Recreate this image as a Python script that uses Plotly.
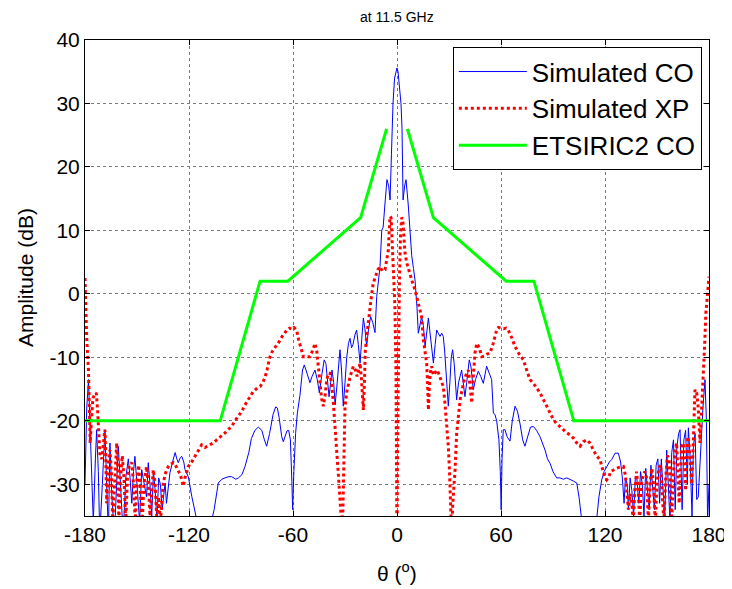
import plotly.graph_objects as go

# ---------------- data ----------------
co_theta = [-180, -179, -178, -177, -176, -175.2, -174, -173.3, -172.3, -171.5, -170, -168.5, -167.5, -166.5,
            -165.6, -164.5, -163, -161.5, -160.8, -159.5, -158, -156.5, -155, -154, -153, -152, -151.2, -150,
            -148.5, -147.3, -146, -144.5, -143.5, -142.5, -141.5, -140.5, -139.5, -138.5, -137.5, -136.5, -135.5,
            -133.8, -133, -132, -131, -129.5, -128, -127, -126.2, -125, -124.2, -123, -122.3, -120.4, -118.4,
            -115.6, -112, -108, -105.5, -103.1, -101, -99.2, -97, -95.4, -93, -91.5, -89.5, -87.7, -85.5, -84,
            -82, -80, -78, -76.5, -75.2, -73.5, -71.5, -70, -69, -68, -66.5, -65.6, -64.5, -63.5, -62.5, -61.5,
            -60.6, -60.2, -59.5, -58.5, -57.5, -56, -54.5, -53.5, -52.5, -51.2, -50.2, -49, -47.3, -46, -44.8,
            -43.5, -42, -41, -40, -39.2, -38.3, -37.5, -36.5, -35.7, -34.5, -33.5, -32.9, -32, -31, -30, -29,
            -28, -27.1, -26.2, -25.4, -24.3, -23.3, -22.3, -21.3, -20.3, -19.4, -18.5, -17.5, -16.4, -15.2,
            -14, -12.7, -11.7, -10.5, -9.8, -8.8, -8, -7, -5.8, -4.8, -4, -3.2, -2.3, -1.4, -0.6, 0, 0.6, 1.4,
            2.3, 2.9, 3.5, 4.4, 5.2, 6.5, 7.5, 8.5, 9.5, 10.4, 11.5, 12.3, 13.2, 14.2, 15.2, 16.2, 17.2, 18.1,
            19, 20, 21, 22, 22.9, 24, 24.8, 25.8, 26.7, 27.5, 28.5, 29.6, 30.5, 31.3, 32.1, 33, 34.4, 35.5,
            37.3, 38.2, 39.2, 40.2, 41.7, 42.7, 44, 45.3, 46.9, 48.3, 49.8, 51.7, 53, 54.6, 55.6, 56.5, 57.5,
            58.8, 59.6, 60.1, 60.6, 61.3, 62.3, 63.5, 65.2, 66.5, 68.1, 69.5, 71, 72.5, 73.8, 75.5, 77, 78.7,
            80.5, 82.5, 84, 85.4, 86.8, 88.3, 90, 92.1, 94, 96, 98, 99.8, 101.8, 103.7, 105, 106.5, 109, 113,
            115.2, 116.5, 118.1, 119.5, 121, 122.5, 123.9, 125.8, 127.7, 129, 130, 131, 131.8, 132.8, 133.5,
            134.5, 135.5, 136.5, 137.5, 138.3, 139.5, 140.5, 141.5, 142.5, 143.5, 144.5, 145.5, 146.5, 147.5,
            148.5, 149.5, 150.5, 151.5, 152.5, 153.5, 154.5, 155.6, 156.5, 157.5, 158.5, 159.5, 160.5, 161.5,
            162.5, 163.3, 164.5, 165.5, 166.5, 167.5, 168.1, 169, 170.2, 171, 172, 172.9, 173.8, 175, 176.5,
            177.7, 178.5, 179.2, 180]
co_db = [-30, -18, -13.5, -22, -30, -36, -26, -21.4, -28, -38, -30, -21.4, -30, -38,
         -23.5, -32, -38, -27, -24, -30, -38, -29, -26, -29, -33, -28, -25.6, -30,
         -36, -27.7, -30, -32, -26.6, -30, -35, -28, -31, -36, -29, -30, -34,
         -29.8, -33, -30, -28.2, -26.5, -25, -26, -26.6, -25.8, -25.6, -26.5, -27.7, -28.8, -31.9,
         -35.5, -38, -37, -34, -29.8, -29.2, -29, -28.8, -28.8, -29.2, -29, -28.5, -27.2, -25, -22.8,
         -21.5, -21, -21.5, -23, -24, -22, -19, -17.8, -18, -19.5, -22.5, -23.3, -22.5, -21.6, -21.5, -23,
         -30, -34, -28, -22, -18.8, -16, -12, -11.2, -12, -13, -14, -13, -12, -13.5, -15.6,
         -13, -10.4, -11, -14, -16.2, -14, -12, -14, -17.5, -14, -10, -8.8, -12, -17.7, -14, -10,
         -7.8, -7, -8.5, -8, -6.5, -5.7, -8, -10.9, -7, -3.8, -5.5, -8.3, -5.5, -3.6,
         -4.5, -6.1, -0.4, 2.5, 4.3, 10, 10.5, 14, 18, 17, 14.8, 22, 30, 34, 35.2, 35.6, 35, 33,
         30, 26, 14.8, 17, 18, 14, 10, 6, 4, 2.2, -2, -6.2, -5, -3.6, -5, -8.3, -6, -3.8,
         -6, -9, -10.9, -8, -5.7, -6.3, -6.7, -6.2, -6.7, -9, -13, -17.7, -14, -10, -8.8, -11, -16.7, -14,
         -12, -14, -16.2, -14, -10.4, -11.5, -15.1, -13.5, -12.2, -13, -14.1, -11.4, -12.3, -13.5, -18.8, -19, -20,
         -23, -28, -34, -26, -21.4, -21.4, -22.5, -23.2, -20, -17.7, -18.5, -20.5, -23, -24, -22.5, -21, -20.9,
         -21.5, -22.5, -23.5, -24.6, -26, -26.7, -28, -29, -29, -29.2, -29, -29.3, -29.5, -29.8, -32, -35.5, -38, -38,
         -35.5, -32, -29.3, -28, -27.2, -26.5, -26.1, -25.1, -25.1, -26.5, -29, -33, -29, -30, -34,
         -29, -31, -35, -29, -28.8, -33, -28, -30, -35, -27.5, -31, -34, -27, -30,
         -34, -27, -26, -33, -26, -31, -35, -24.6, -30, -36, -25, -23, -34, -24,
         -22, -21.4, -34, -23, -21.5, -30, -21.1, -25, -35, -24, -22, -32.4, -32, -25, -18,
         -13.5, -20, -36, -30]

xp_theta = [-180, -179.5, -179, -178, -177.5, -177, -176.3, -175.5, -174.5, -173.5, -172.8, -172.3, -171.3,
            -170.3, -169.3, -168.5, -168, -167.5, -167, -166.3, -165.6, -164.8, -164, -163, -162.3, -161.7,
            -161, -160.5, -159.5, -158.5, -157.5, -156.5, -155.5, -154.5, -153, -152, -151, -150, -149, -148,
            -147, -146, -144.5, -143.5, -142.5, -141.5, -140.6, -139.5, -138.5, -137.5, -136.5, -135.5, -134.8,
            -133.8, -132.9, -131.5, -130, -129, -127.8, -126.5, -125, -124, -123.3, -122.3, -121.3, -120.4,
            -118.5, -116.5, -114.5, -112.7, -111.5, -110.7, -109.5, -108, -106, -104, -101.5, -99.2, -97.5,
            -95.4, -93.5, -91.5, -89.5, -87.7, -85.5, -83, -80.5, -79, -77.5, -76.2, -75, -73.3, -71.5, -70,
            -68.5, -67, -65, -63.6, -62, -60.5, -59.5, -57.9, -56.8, -55.5, -54, -52, -50.2, -48.8, -47.3,
            -46.3, -45.4, -44.5, -43.5, -42.5, -41.5, -40.5, -39.6, -38.7, -37.6, -36.7, -35.8, -34.8, -34,
            -33.2, -32.5, -31.9, -31.2, -30.6, -30, -29, -28.1, -27, -25.2, -24, -23, -22, -21.3, -20.5,
            -19.9, -19.4, -18.8, -18.3, -17.5, -16.5, -15.6, -14.6, -13.7, -12.5, -11, -9.8, -8.5, -6.9, -6,
            -5, -4.5, -4, -3.4, -2.8, -2.2, -1.2, -0.6, -0.2, 0, 0.3, 0.8, 1.4, 2, 2.7, 3.3, 4, 4.6, 5.6,
            6.5, 7.5, 8.7, 10.4, 12.3, 13.2, 14.2, 15.2, 16.2, 17.1, 17.6, 18.1, 18.6, 19.2, 20, 21, 21.9,
            22.9, 24, 25.5, 26.7, 27.6, 28.6, 29.6, 30.3, 30.9, 31.5, 32.2, 33.5, 34.4, 35.4, 36.5, 38.3,
            39.5, 41.2, 42.1, 43.1, 44, 45, 46, 47.5, 48.9, 50.5, 52, 53.7, 55.5, 57.5, 58.5, 60, 61.5, 63,
            64.2, 66, 68.1, 70.5, 72.9, 74.8, 76.7, 78.7, 80.5, 82.5, 85.5, 88.3, 90.2, 92, 94, 97.9, 99.8,
            102, 103.7, 105.6, 107.5, 109.5, 111.3, 113, 115, 117.1, 118.5, 119.5, 121, 122, 123.3, 124.8,
            126.5, 128.5, 130.6, 131.7, 132.7, 133.5, 134.5, 135.5, 136.3, 137.2, 138.2, 139.2, 140, 141,
            142, 143, 144, 145, 146, 147, 148, 149, 150, 151, 152, 153, 154, 155, 156, 157, 157.8, 158.5,
            159.3, 160.3, 161.3, 162, 162.8, 163.5, 164.3, 165.2, 165.8, 166.5, 167.1, 167.8, 168.5, 169.3,
            170, 171, 171.9, 172.9, 173.8, 174.8, 175.5, 176.2, 176.7, 177.5, 178.2, 178.7, 179.4, 180]
xp_db = [2.5, -2, -7, -12, -18, -23.5, -20, -16.5, -15.8, -15.6, -18, -21, -25.6,
         -26, -23, -21.4, -26, -33, -30, -26, -24.6, -28, -36, -30, -25, -23.5,
         -28, -36, -29, -25.5, -29, -36, -29, -27, -26.6, -30, -36, -29, -27, -31,
         -36, -30, -27.2, -30, -35, -31, -27.7, -30, -36, -32, -36, -32, -29.8,
         -28.5, -27.7, -27, -26.8, -26.6, -27, -27.7, -28.5, -29.5, -30.3, -29, -27.8, -27.2,
         -26.5, -25.6, -24.5, -23.8, -24, -24.2, -24, -23.8, -23.5, -23, -22.5, -21.9, -21.4,
         -20.9, -20, -19.3, -18.5, -17.5, -16.5, -15.4, -14.8, -14.6, -14, -13.2, -12, -9.9, -8.8, -8.3,
         -7.8, -7, -6.2, -5.7, -5.4, -5.6, -5.3, -5.7, -7.2, -8.5, -9.9, -9.9, -9.9, -9, -7.8,
         -9, -11.5, -14.6, -16.5, -17.7, -16, -13.5, -12.5, -12.5, -14.5, -17.2, -20.4, -23.8, -27,
         -31, -34, -38, -34, -25, -17.7, -15.5, -14.1, -13, -11.4, -12, -13, -12, -10.9, -13.5,
         -17, -18.3, -14, -9, -6.7, -4, -2, 0, 1.7, 2.8, 3.8, 4.3, 3.6, 3.8, 5.2,
         6.9, 10, 12.2, 12, 8, 4, -2, -12, -25, -40, -25, -10, 2, 9, 12, 11.8, 9, 6.5, 4.9,
         4, 3.3, 2, 0.6, -1.5, -2.5, -3.6, -7.2, -9.5, -10.9, -14, -18.3, -15, -12.5, -11.4, -12.8, -12.5,
         -12, -12.5, -13.5, -14.6, -17, -20.5, -24, -28, -32, -38, -33, -27.7, -22, -19.3, -16.5, -14.1,
         -13, -12, -14.5, -17.2, -13, -9.3, -7.8, -8.5, -9.9, -9.8, -9.5, -9.3, -7.8, -5.7, -5.3, -5.4, -5.5, -5.4,
         -5.7, -6.8, -8.3, -9.5, -10.4, -12, -13.5, -14.1, -14.8, -15.6, -17.2, -18.8, -19.8, -20.4, -20.9, -21.9, -22.2,
         -22.8, -23.5, -24, -23.3, -23, -23.5, -24.5, -25.5, -26.1, -27.5, -28.5, -29.3, -29, -28, -27.7,
         -27.5, -27.3, -27.2, -28.5, -31, -34, -31.5, -33, -36, -31, -28, -31, -36, -30,
         -28.5, -28, -29, -36, -30, -27.5, -30, -36, -30, -27.5, -27, -31, -36, -29, -25.5, -26, -31, -36,
         -29, -25, -23.5, -27, -33, -28, -24, -23.5, -27, -31, -26, -22.5, -24, -28,
         -30, -23, -15.1, -15.6, -18, -23.5, -20, -15, -13.5, -8, -3, -1.5, 1, 2.7]

mask_theta = [-180, -102, -79, -63, -21, -6, None, 6, 21, 63, 79, 102, 180]
mask_db = [-20, -20, 2, 2, 12, 26, None, 26, 12, 2, 2, -20, -20]

x_ticks = [-180, -120, -60, 0, 60, 120, 180]
y_ticks = [-30, -20, -10, 0, 10, 20, 30, 40]

FONT = "Liberation Sans, Arial, sans-serif"

fig = go.Figure()
fig.add_trace(go.Scatter(x=co_theta, y=co_db, mode="lines", name="Simulated CO",
                         line=dict(color="#0000FF", width=1)))
fig.add_trace(go.Scatter(x=xp_theta, y=xp_db, mode="lines", name="Simulated XP",
                         line=dict(color="#FF0000", width=3, dash="dot")))
fig.add_trace(go.Scatter(x=mask_theta, y=mask_db, mode="lines", name="ETSIRIC2 CO",
                         line=dict(color="#00FF00", width=3), connectgaps=False))

axis_common = dict(showline=True, linecolor="black", linewidth=1, mirror="ticks",
                   ticks="inside", ticklen=5, tickcolor="black", automargin=False,
                   showgrid=True, gridcolor="#7a7a7a", griddash="dot", gridwidth=1,
                   zeroline=False, tickfont=dict(family=FONT, size=21, color="black"))

# the page body adds an 8 px margin, so the figure is 8 px smaller and margins are offset
fig.update_layout(
    width=724, height=581,
    margin=dict(l=77, r=23, t=32, b=73),
    paper_bgcolor="white", plot_bgcolor="white",
    xaxis=dict(range=[-180, 180], tickvals=x_ticks, ticktext=[str(v) for v in x_ticks], **axis_common),
    yaxis=dict(range=[-35, 40], tickvals=y_ticks, ticktext=[str(v) for v in y_ticks], **axis_common),
    showlegend=True,
    legend=dict(x=0.9885, xanchor="right", y=0.985, yanchor="top",
                bgcolor="white", bordercolor="black", borderwidth=1,
                font=dict(family=FONT, size=26, color="black"),
                tracegroupgap=0, itemwidth=68),
    annotations=[
        dict(text="at 11.5 GHz", xref="paper", yref="paper", x=0.5, y=1.0, yshift=23,
             xanchor="center", yanchor="middle", showarrow=False,
             font=dict(family=FONT, size=14, color="black")),
        dict(text="θ (<sup>o</sup>)", xref="paper", yref="paper", x=0.5, y=0, yshift=-56,
             xanchor="center", yanchor="middle", showarrow=False,
             font=dict(family=FONT, size=21, color="black")),
        dict(text="Amplitude (dB)", xref="paper", yref="paper", x=0, xshift=-60, y=0.5,
             xanchor="center", yanchor="middle", showarrow=False, textangle=-90,
             font=dict(family=FONT, size=21, color="black")),
    ],
)

fig.write_html("out.html")
